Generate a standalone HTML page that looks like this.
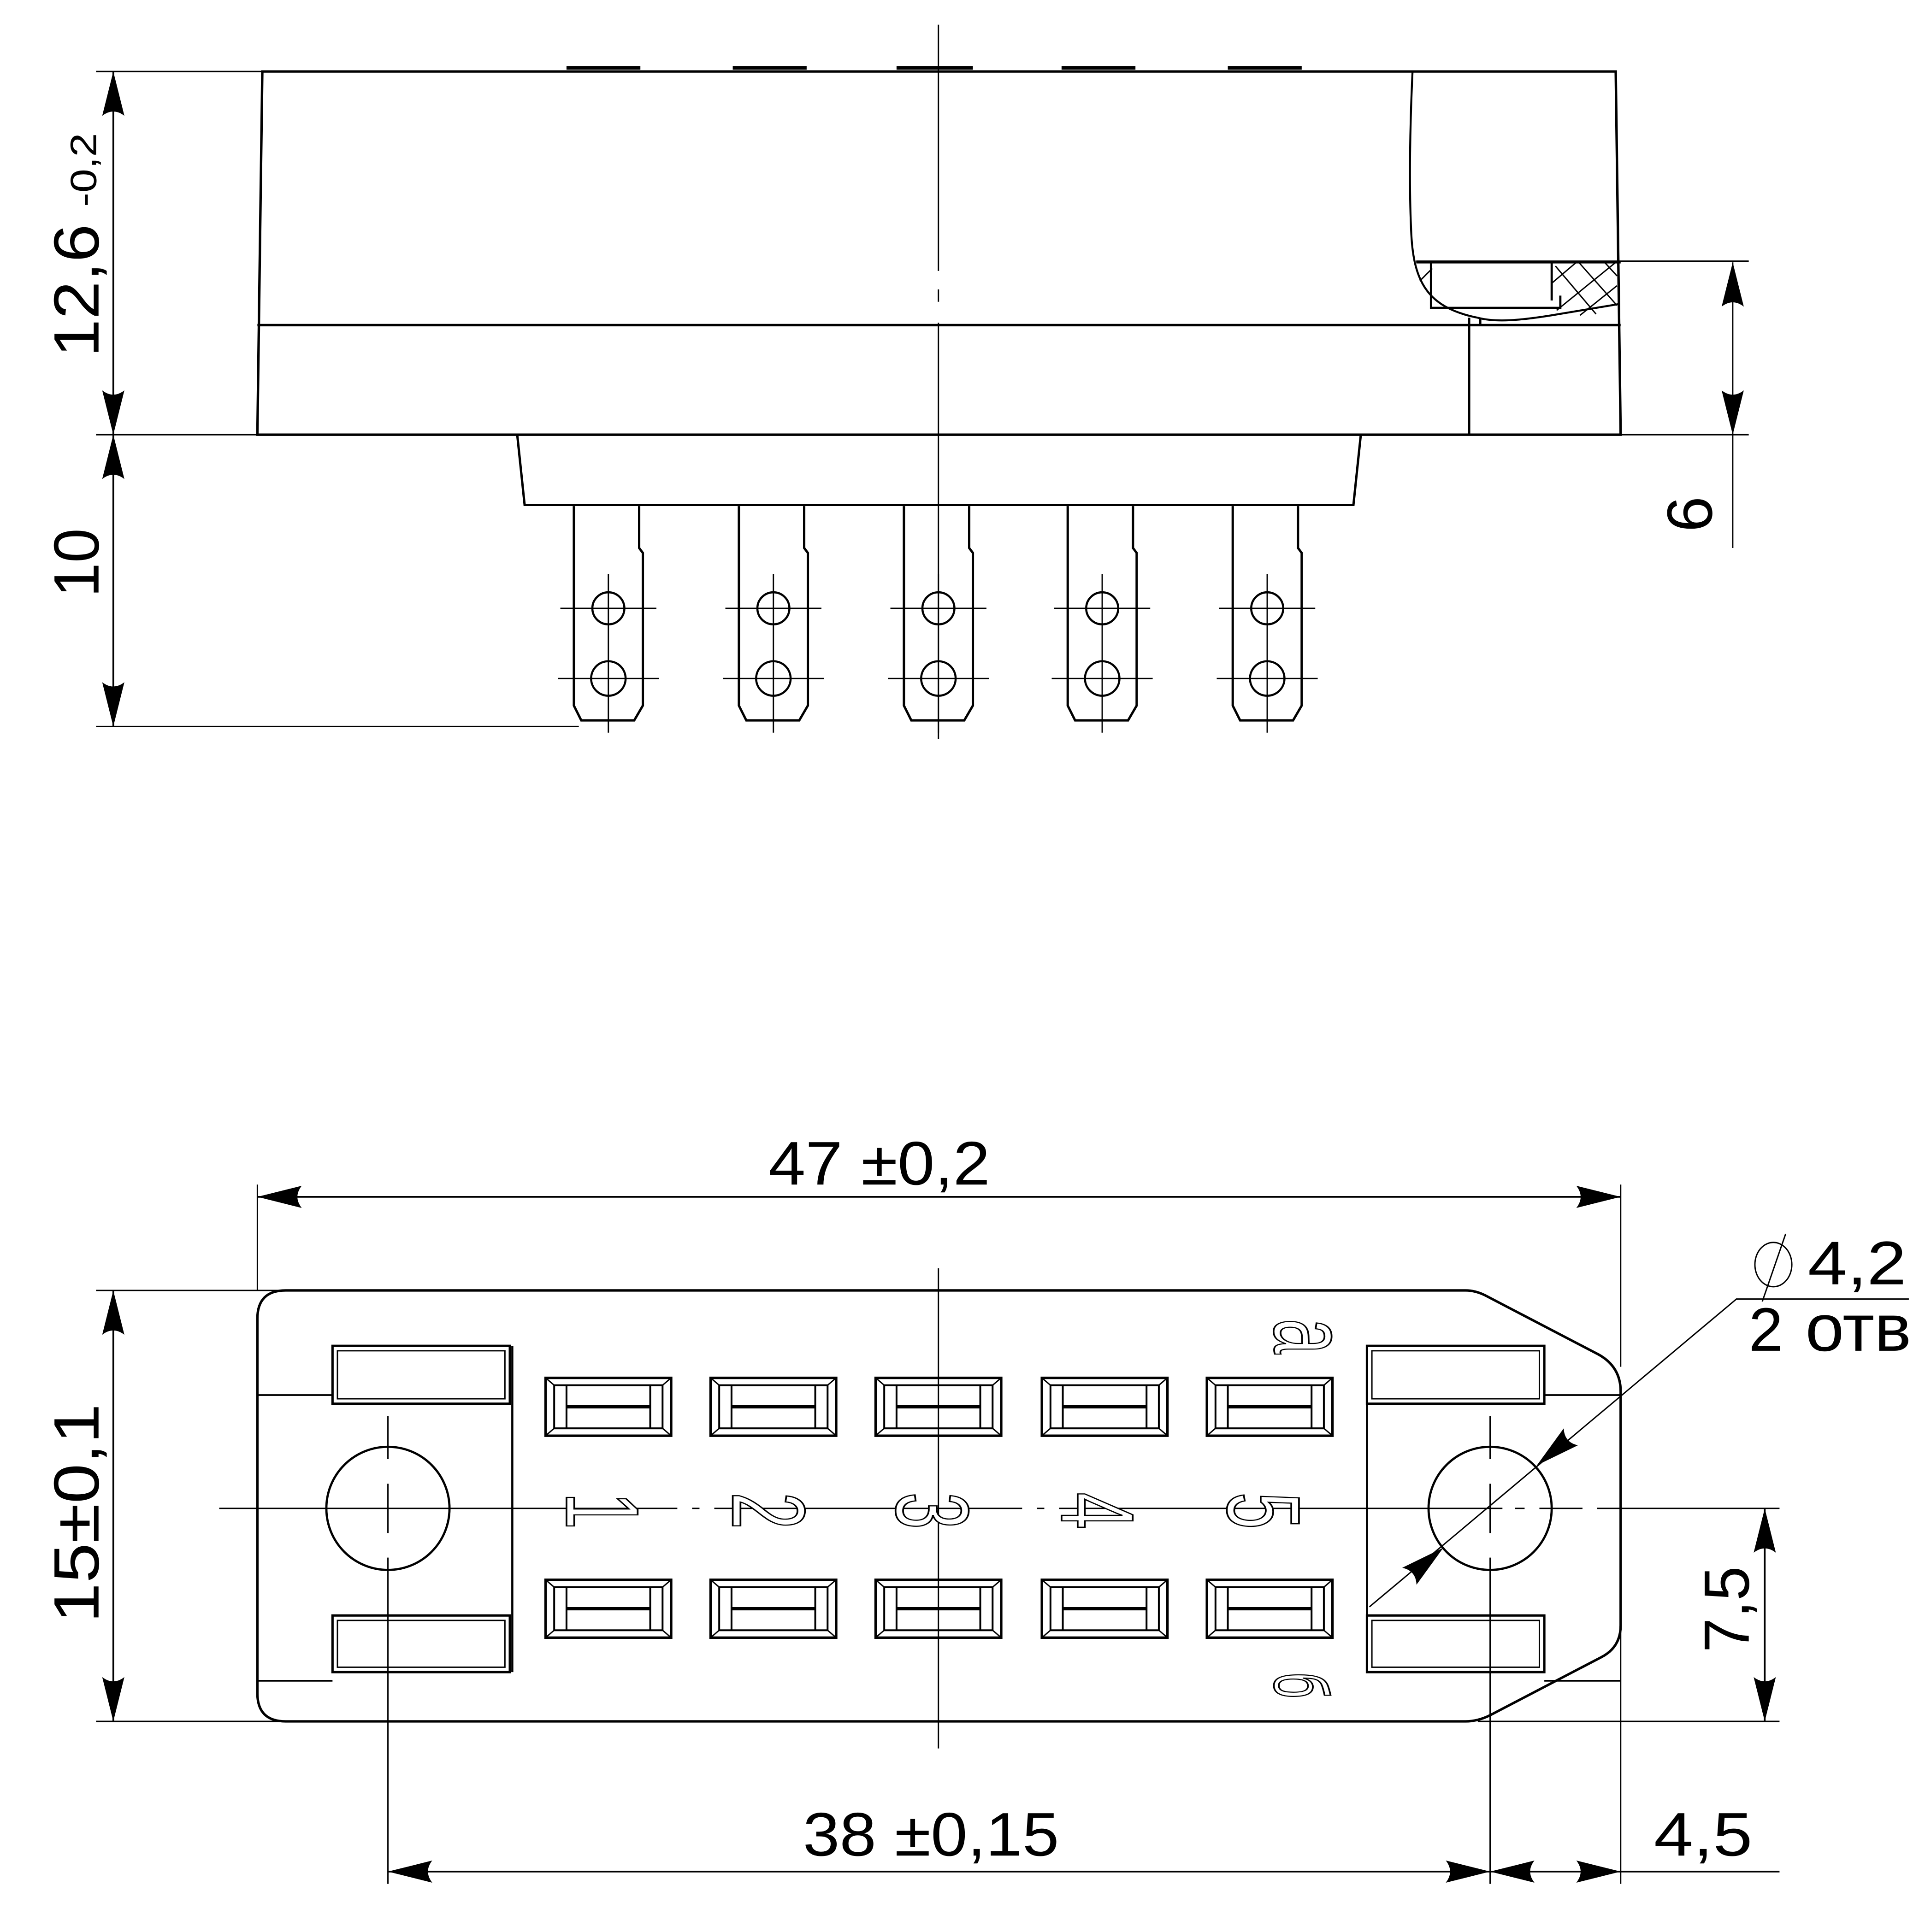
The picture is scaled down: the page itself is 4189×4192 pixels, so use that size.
<!DOCTYPE html>
<html><head><meta charset="utf-8">
<style>
html,body{margin:0;padding:0;background:#fff;}
svg{display:block;}
text{font-family:"Liberation Sans",sans-serif;}
</style></head>
<body>
<svg width="4189" height="4192" viewBox="0 0 1568 1569" xmlns="http://www.w3.org/2000/svg">
<defs>
  <path id="ar" d="M0,0 L-36,-9 Q-29,0 -36,9 Z" fill="#000"/>
  <g id="tab" fill="none" stroke="#000">
    <path d="M466,411 V573 L472,585 H515 L522,573 V449 L519,445 V411" stroke-width="1.9"/>
    <circle cx="494" cy="494" r="13" stroke-width="1.7"/>
    <circle cx="494" cy="551" r="14" stroke-width="1.7"/>
    <path d="M494,466 V595 M455,494 H533 M453,551 H535" stroke-width="1.1"/>
  </g>
  <g id="cont" fill="none" stroke="#000">
    <rect x="443" y="0" width="102" height="47" stroke-width="2"/>
    <rect x="450" y="6" width="88" height="35" stroke-width="1.5"/>
    <path d="M443,0 L450,6 M545,0 L538,6 M443,47 L450,41 M545,47 L538,41" stroke-width="1.1"/>
    <path d="M460,6 V41 M528,6 V41" stroke-width="1.5"/>
    <path d="M460,23.5 H528" stroke-width="2.7"/>
  </g>
</defs>
<g fill="none" stroke="#000">
  <path d="M460,55 H520 M595,55 H655 M728,55 H790 M862,55 H922 M997,55 H1057" stroke-width="3"/>
  <path d="M213,58 H1312 L1316,353 H209 Z" stroke-width="2"/>
  <path d="M209,264 H1316" stroke-width="2"/>
  <path d="M1147,58 C1145,100 1144,150 1146,190 C1148,230 1160,250 1200,258 C1215,262 1235,260 1260,256 L1314,247" stroke-width="1.6"/>
  <path d="M1150,212 H1420" stroke-width="1.1"/>
  <path d="M1150,213 H1316" stroke-width="1.8"/>
  <path d="M1162,213 V250 H1267 V240" stroke-width="1.8"/>
  <path d="M1260,213 V244" stroke-width="1.8"/>
  <path d="M1193,258 V353 M1202,258 V264" stroke-width="1.8"/>
  <path d="M1260,230 L1280,213 M1264,252 L1312,213 M1283,256 L1313,232 M1263,216 L1296,255 M1282,213 L1313,248 M1303,213 L1313,224 M1153,228 L1163,218" stroke-width="1.1"/>
  <path d="M420,353 L426,410 H1099 L1105,353" stroke-width="1.9"/>
  <use href="#tab"/>
  <use href="#tab" transform="translate(134,0)"/>
  <use href="#tab" transform="translate(268,0)"/>
  <use href="#tab" transform="translate(401,0)"/>
  <use href="#tab" transform="translate(535,0)"/>
  <path d="M762,20 V220 M762,235 V245 M762,262 V600" stroke-width="1.1"/>
  <path d="M78,58 H213 M78,353 H209 M78,590 H470" stroke-width="1.1"/>
  <path d="M92,58 V590" stroke-width="1.4"/>
  <path d="M1316,353 H1420 M1407,213 V445" stroke-width="1.1"/>

  <path d="M232,1048 H1190 Q1198,1048 1206,1052 L1298,1100 Q1316,1110 1316,1130 V1320 Q1316,1338 1300,1346 L1210,1393 Q1200,1398 1190,1398 H232 Q209,1398 209,1375 V1071 Q209,1048 232,1048 Z" stroke-width="2"/>
  <path d="M209,1133 H270 M1254,1133 H1316 M209,1365 H270 M1254,1365 H1316" stroke-width="1.4"/>
  <path d="M416,1093 V1358 M1110,1093 V1358" stroke-width="1.7"/>
  <rect x="270" y="1093" width="144" height="47" stroke-width="1.9"/>
  <rect x="274" y="1097" width="136" height="39" stroke-width="1.1"/>
  <rect x="270" y="1312" width="144" height="46" stroke-width="1.9"/>
  <rect x="274" y="1316" width="136" height="38" stroke-width="1.1"/>
  <rect x="1110" y="1093" width="144" height="47" stroke-width="1.9"/>
  <rect x="1114" y="1097" width="136" height="39" stroke-width="1.1"/>
  <rect x="1110" y="1312" width="144" height="46" stroke-width="1.9"/>
  <rect x="1114" y="1316" width="136" height="38" stroke-width="1.1"/>
  <circle cx="315" cy="1225" r="50" stroke-width="1.8"/>
  <circle cx="1210" cy="1225" r="50" stroke-width="1.8"/>
  <g transform="translate(0,1119)">
    <use href="#cont"/><use href="#cont" transform="translate(134,0)"/><use href="#cont" transform="translate(268,0)"/><use href="#cont" transform="translate(403,0)"/><use href="#cont" transform="translate(537,0)"/>
  </g>
  <g transform="translate(0,1283)">
    <use href="#cont"/><use href="#cont" transform="translate(134,0)"/><use href="#cont" transform="translate(268,0)"/><use href="#cont" transform="translate(403,0)"/><use href="#cont" transform="translate(537,0)"/>
  </g>
  <path d="M178,1225 H550 M562,1225 H568 M580,1225 H830 M842,1225 H848 M860,1225 H1220 M1230,1225 H1238 M1250,1225 H1285 M1297,1225 H1340" stroke-width="1.1"/>
  <path d="M762,1030 V1420" stroke-width="1.1"/>
  <path d="M315,1150 V1185 M315,1205 V1245 M315,1265 V1530" stroke-width="1.1"/>
  <path d="M1210,1150 V1185 M1210,1205 V1245 M1210,1265 V1530" stroke-width="1.1"/>
  <path d="M1316,1130 V1530" stroke-width="1.1"/>
  <path d="M209,962 V1048 M1316,962 V1110" stroke-width="1.1"/>
  <path d="M209,972 H1316" stroke-width="1.4"/>
  <path d="M78,1048 H232 M78,1398 H232" stroke-width="1.1"/>
  <path d="M92,1048 V1398" stroke-width="1.4"/>
  <path d="M1340,1225 H1445 M1200,1398 H1445" stroke-width="1.1"/>
  <path d="M1433,1225 V1398" stroke-width="1.4"/>
  <path d="M315,1520 H1445" stroke-width="1.4"/>
  <path d="M1112,1305 L1410,1055 H1550" stroke-width="1.1"/>
</g>
<g>
  <use href="#ar" transform="translate(92,58) rotate(-90)"/>
  <use href="#ar" transform="translate(92,353) rotate(90)"/>
  <use href="#ar" transform="translate(92,353) rotate(-90)"/>
  <use href="#ar" transform="translate(92,590) rotate(90)"/>
  <use href="#ar" transform="translate(1407,213) rotate(-90)"/>
  <use href="#ar" transform="translate(1407,353) rotate(90)"/>
  <use href="#ar" transform="translate(209,972) rotate(180)"/>
  <use href="#ar" transform="translate(1316,972)"/>
  <use href="#ar" transform="translate(92,1048) rotate(-90)"/>
  <use href="#ar" transform="translate(92,1398) rotate(90)"/>
  <use href="#ar" transform="translate(1433,1225) rotate(-90)"/>
  <use href="#ar" transform="translate(1433,1398) rotate(90)"/>
  <use href="#ar" transform="translate(315,1520) rotate(180)"/>
  <use href="#ar" transform="translate(1210,1520)"/>
  <use href="#ar" transform="translate(1210,1520) rotate(180)"/>
  <use href="#ar" transform="translate(1316,1520)"/>
  <use href="#ar" transform="translate(1248,1190) rotate(140)"/>
  <use href="#ar" transform="translate(1172,1257) rotate(-40)"/>
</g>
<g fill="#000">
  <text transform="translate(80,290) rotate(-90)" font-size="52" textLength="108" lengthAdjust="spacingAndGlyphs">12,6</text>
  <text transform="translate(78,168) rotate(-90)" font-size="30" textLength="60" lengthAdjust="spacingAndGlyphs">-0,2</text>
  <text transform="translate(80,485) rotate(-90)" font-size="52" textLength="56" lengthAdjust="spacingAndGlyphs">10</text>
  <text transform="translate(1390,432) rotate(-90)" font-size="52">6</text>
  <text x="624" y="962" font-size="50" textLength="180" lengthAdjust="spacingAndGlyphs">47 ±0,2</text>
  <text transform="translate(80,1318) rotate(-90)" font-size="52" textLength="178" lengthAdjust="spacingAndGlyphs">15±0,1</text>
  <text transform="translate(1420,1342) rotate(-90)" font-size="52" textLength="70" lengthAdjust="spacingAndGlyphs">7,5</text>
  <text x="652" y="1507" font-size="50" textLength="208" lengthAdjust="spacingAndGlyphs">38 ±0,15</text>
  <text x="1343" y="1507" font-size="50" textLength="80" lengthAdjust="spacingAndGlyphs">4,5</text>
  <text x="1468" y="1043" font-size="50" textLength="80" lengthAdjust="spacingAndGlyphs">4,2</text>
  <text x="1420" y="1097" font-size="50">2</text>
  <text x="1466" y="1097" font-size="54" textLength="86" lengthAdjust="spacingAndGlyphs">отв</text>
</g>
<g fill="none" stroke="#000" stroke-width="1.1">
  <ellipse cx="1440" cy="1027" rx="15" ry="18"/>
  <path d="M1431,1057 L1450,1002"/>
</g>
<g fill="#fff" stroke="#000" stroke-width="1.4" font-size="84">
  <text transform="translate(460,1212) rotate(90) scale(0.64,1)">1</text>
  <text transform="translate(595,1212) rotate(90) scale(0.64,1)">2</text>
  <text transform="translate(728,1212) rotate(90) scale(0.64,1)">3</text>
  <text transform="translate(862,1212) rotate(90) scale(0.64,1)">4</text>
  <text transform="translate(997,1212) rotate(90) scale(0.64,1)">5</text>
  <text transform="translate(1035,1071) rotate(90) scale(0.6,1)" font-size="86">а</text>
  <text transform="translate(1035,1358) rotate(90) scale(0.6,1)" font-size="62">б</text>
</g>
</svg>
</body></html>
